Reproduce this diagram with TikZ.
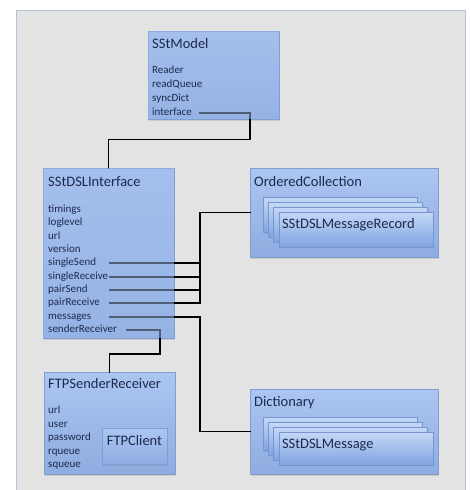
\documentclass[tikz,border=0pt]{standalone}
\usepackage{fontspec}
\setmainfont{Carlito}
\usepackage{tikz}
\usetikzlibrary{calc,shadows}
\pgfdeclarelayer{panel}
\pgfdeclarelayer{wires}
\pgfdeclarelayer{front}
\pgfsetlayers{panel,main,wires,front}
\definecolor{panelfill}{RGB}{227,227,227}
\definecolor{panelline}{RGB}{178,194,220}
\definecolor{boxtop}{RGB}{172,198,242}
\definecolor{boxbot}{RGB}{142,172,224}
\definecolor{boxline}{RGB}{128,158,210}
\definecolor{veilc}{RGB}{158,186,234}
\definecolor{cardtop}{RGB}{196,216,246}
\definecolor{cardbot}{RGB}{128,164,224}
\definecolor{cardline}{RGB}{120,150,205}
\definecolor{ink}{RGB}{28,42,78}
\newcommand\ttlfont{\fontsize{14.5}{17}\selectfont}
\newcommand\itmfont{\fontsize{11}{12}\selectfont}
\tikzstyle{cls}=[draw=boxline, top color=boxtop, bottom color=boxbot, line width=0.6pt,
                 inner sep=0, drop shadow={shadow xshift=1pt, shadow yshift=-1.5pt, opacity=0.25}]
\tikzstyle{card}=[draw=cardline, top color=cardtop, bottom color=cardbot, line width=0.6pt,
                  minimum width=154pt, inner xsep=3pt, inner ysep=0, text width=148pt, align=left,
                  font=\ttlfont, text=ink, drop shadow={shadow xshift=1pt, shadow yshift=-1pt, opacity=0.2}]
\tikzstyle{ttl}=[anchor=base west, inner sep=0, font=\ttlfont, text=ink]
\tikzstyle{itm}=[anchor=west, inner sep=0, text height=7.5pt, text depth=2.2pt, font=\itmfont, text=ink]
\tikzstyle{wire}=[line width=1.9pt, black, line cap=rect]
\tikzstyle{veil}=[fill=veilc, fill opacity=0.5]
\begin{document}
\begin{tikzpicture}[x=1pt,y=-1pt]
\useasboundingbox (0,0) rectangle (470,490);
\begin{pgfonlayer}{panel}
\draw[fill=panelfill, draw=panelline, line width=1pt] (16,10) rectangle (465,500);
\end{pgfonlayer}
% class boxes
\node[cls, minimum width=131pt, minimum height=88pt] (model) at (213.5,75) {};
\node[cls, minimum width=131pt, minimum height=170pt] (ifc) at (108.5,253) {};
\node[cls, minimum width=131pt, minimum height=102pt] (ftp) at (109.5,423) {};
\node[cls, minimum width=188pt, minimum height=89pt] (ordered) at (344,212.5) {};
\node[cls, minimum width=188pt, minimum height=85pt] (dict) at (344,431.5) {};
\node[cls, minimum width=65pt, minimum height=36pt, font=\ttlfont, text=ink,
      text height=10pt, text depth=11pt] (ftpclient) at (134.5,446) {FTPClient};
% stacked elements
\foreach \k in {3,2,1} {
  \node[card, minimum height=35pt] (rec-\k) at (356-5.3*\k,229.5-4.8*\k) {};
  \node[card, minimum height=33pt] (msg-\k) at (356-5.3*\k,448.5-4.8*\k) {};
}
\node[card, minimum height=35pt, text height=10pt, text depth=12.4pt] (rec) at (356,229.5) {SStDSLMessageRecord};
\node[card, minimum height=33pt, text height=10pt, text depth=10.4pt] (msg) at (356,448.5) {SStDSLMessage};
% titles and slots
\begin{pgfonlayer}{front}
\node[ttl] (model-title) at (152,48.3) {SStModel};
\foreach \n [count=\i] in {Reader,readQueue,syncDict,interface}
  \node[itm] (model-\n) at (152,57+14*\i) {\n};
\node[ttl] (ifc-title) at (48,186) {SStDSLInterface};
\foreach \n [count=\i] in {timings,loglevel,url,version,singleSend,singleReceive,pairSend,pairReceive,messages,senderReceiver}
  \node[itm] (ifc-\n) at (48,196.67+13.33*\i) {\n};
\node[ttl] (ftp-title) at (48,388.3) {FTPSenderReceiver};
\foreach \n [count=\i] in {url,user,password,rqueue,squeue}
  \node[itm] (ftp-\n) at (48,397.5+13.5*\i) {\n};
\node[ttl] (ordered-title) at (254,186) {OrderedCollection};
\node[ttl] (dict-title) at (254,406) {Dictionary};
\end{pgfonlayer}
% references
\begin{pgfonlayer}{wires}
\coordinate (mport) at (200,0);
\coordinate (iport) at (110,0);
\coordinate (sport) at (127,0);
\coordinate (bus) at (200,0);
\draw[wire] (mport |- model-interface) -- ++(50,0) -- ++(0,26.5) -| (ifc.north);
\foreach \n in {singleSend,singleReceive,pairSend,pairReceive}
  \draw[wire] (iport |- ifc-\n) -- (bus |- ifc-\n);
\draw[wire] (ordered.west) -| (bus |- ifc-pairReceive);
\draw[wire] (iport |- ifc-messages) -| (bus |- dict.west) -- (dict.west);
\draw[wire] (sport |- ifc-senderReceiver) -- ++(33,0) -- ++(0,24) -| (ftp.north);
\foreach \b in {model,ifc}
  \fill[veil] (\b.north west) rectangle (\b.south east);
\end{pgfonlayer}
\end{tikzpicture}
\end{document}
